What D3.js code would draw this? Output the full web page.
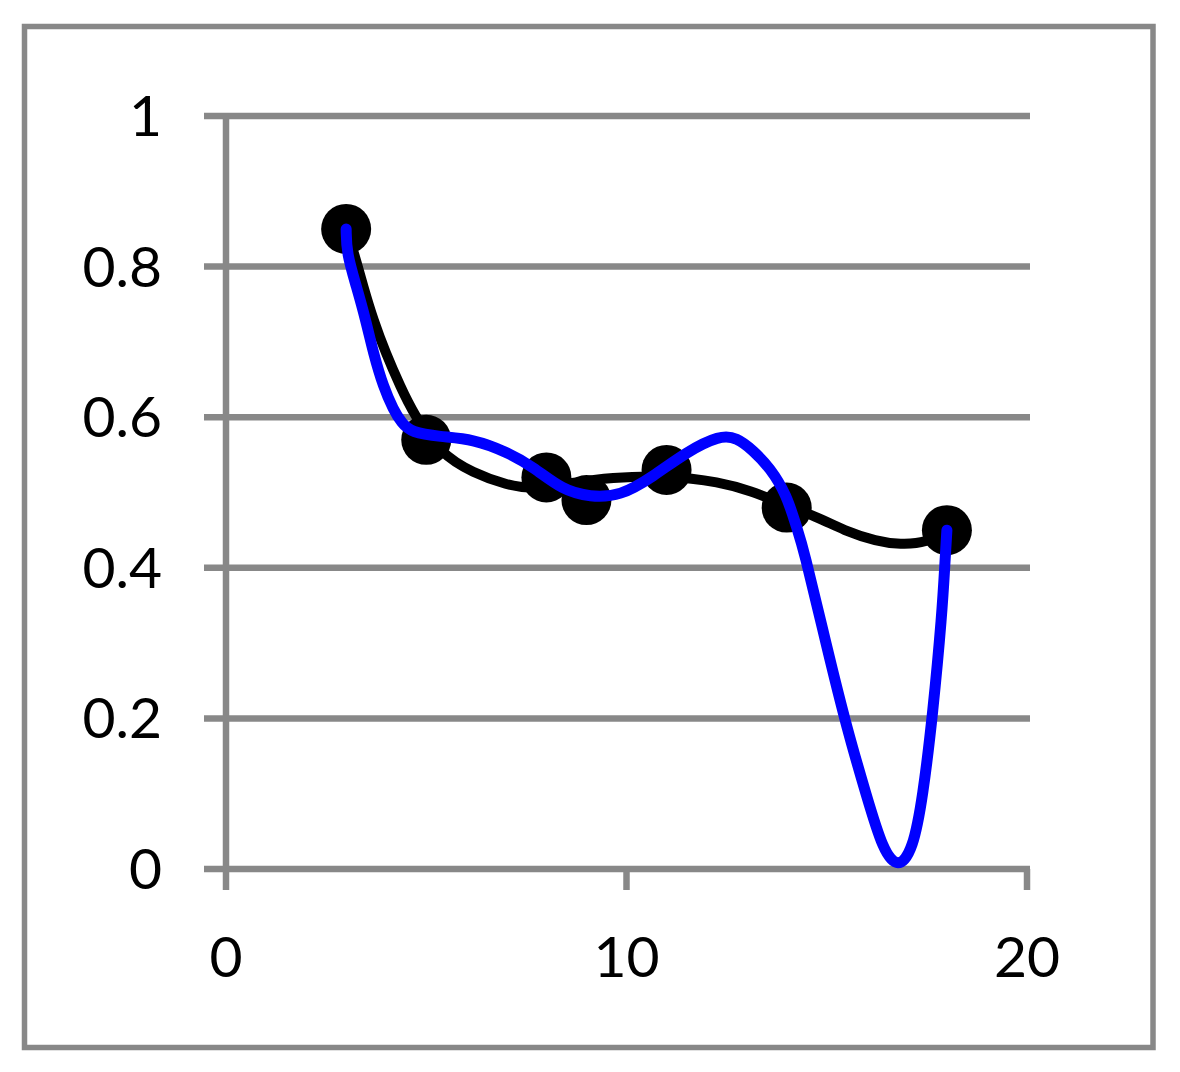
<!DOCTYPE html>
<html>
<head>
<meta charset="utf-8">
<script src="https://cdn.jsdelivr.net/npm/d3@7"></script>
<style>
  html, body { margin: 0; padding: 0; background: #fff; }
  svg { display: block; }
  text { font-family: Lato, "Open Sans", sans-serif; fill: #000; }
</style>
</head>
<body>
<svg id="chart" width="1180" height="1072"></svg>
<script>
// ---- data ----
const xTicks = [0, 10, 20];
const yTicks = [0, 0.2, 0.4, 0.6, 0.8, 1];
const yTickLabels = ["0", "0.2", "0.4", "0.6", "0.8", "1"];
const xTickLabels = ["0", "10", "20"];

const pointsX = [3, 5, 8, 9, 11, 14, 18];
const pointsY = [0.85, 0.57, 0.52, 0.49, 0.53, 0.48, 0.45];

// black smooth curve (trend)
const blackX = [3, 3.2, 3.43, 3.68, 3.99, 4.36, 4.68, 5.34, 6.17, 7.01, 7.67, 8.66, 9.59, 11.0, 12.33, 13.16, 13.66, 14.83, 15.41, 16.25, 16.83, 17.5, 18];
const blackY = [0.85, 0.818, 0.773, 0.729, 0.685, 0.64, 0.605, 0.552, 0.526, 0.51, 0.504, 0.513, 0.52, 0.523, 0.514, 0.501, 0.49, 0.466, 0.45, 0.435, 0.431, 0.433, 0.45];

// blue curve
const blueX = [3, 3.01, 3.26, 3.49, 3.68, 3.93, 4.18, 4.39, 4.62, 5.34, 6.17, 7.01, 7.67, 8.41, 9.09, 9.84, 10.66, 11.5, 12.33, 12.75, 13.16, 13.58, 14.0, 14.25, 14.41, 15.0, 15.51, 16.0, 16.4, 16.78, 17.15, 17.4, 17.65, 17.88, 17.95, 18];
const blueY = [0.85, 0.818, 0.773, 0.729, 0.685, 0.64, 0.61, 0.592, 0.58, 0.574, 0.571, 0.554, 0.534, 0.503, 0.494, 0.495, 0.521, 0.554, 0.576, 0.573, 0.556, 0.533, 0.497, 0.453, 0.428, 0.295, 0.185, 0.096, 0.025, 0.0, 0.025, 0.096, 0.207, 0.34, 0.406, 0.45];

// ---- drawing ----
const svg = d3.select("#chart");
const gray = "#888888";

const x = d3.scaleLinear().domain([0, 20]).range([226, 1027]);
const y = d3.scaleLinear().domain([0, 1]).range([869, 116]);

// outer border
svg.append("rect")
  .attr("x", 24.5).attr("y", 26.5)
  .attr("width", 1153 - 24.5).attr("height", 1047.5 - 26.5)
  .attr("fill", "none").attr("stroke", gray).attr("stroke-width", 5.5);

// horizontal gridlines (with left tick extension)
svg.append("g").selectAll("line").data(yTicks).join("line")
  .attr("x1", 204).attr("x2", 1030)
  .attr("y1", d => y(d)).attr("y2", d => y(d))
  .attr("stroke", gray).attr("stroke-width", 6.5);

// y axis line
svg.append("line")
  .attr("x1", x(0)).attr("x2", x(0))
  .attr("y1", y(1) - 3).attr("y2", y(0) + 3)
  .attr("stroke", gray).attr("stroke-width", 6.5);

// x tick marks
svg.append("g").selectAll("line").data(xTicks).join("line")
  .attr("x1", d => x(d)).attr("x2", d => x(d))
  .attr("y1", y(0)).attr("y2", 890)
  .attr("stroke", gray).attr("stroke-width", 6.5);

// y labels
svg.append("g").selectAll("text").data(yTicks).join("text")
  .attr("x", 162).attr("y", d => y(d) + 20)
  .attr("text-anchor", "end")
  .attr("font-size", 57)
  .text((d, i) => yTickLabels[i]);

// x labels
svg.append("g").selectAll("text").data(xTicks).join("text")
  .attr("x", d => x(d)).attr("y", 977)
  .attr("text-anchor", "middle")
  .attr("font-size", 57)
  .text((d, i) => xTickLabels[i]);

const line = d3.line()
  .x(d => x(d[0])).y(d => y(d[1]))
  .curve(d3.curveBasis);

// black curve
svg.append("path")
  .datum(d3.zip(blackX, blackY))
  .attr("d", line)
  .attr("fill", "none").attr("stroke", "#000").attr("stroke-width", 10)
  .attr("stroke-linecap", "round").attr("stroke-linejoin", "round");

// markers
svg.append("g").selectAll("circle").data(d3.zip(pointsX, pointsY)).join("circle")
  .attr("cx", d => x(d[0])).attr("cy", d => y(d[1]))
  .attr("r", 25).attr("fill", "#000");

// blue curve
svg.append("path")
  .datum(d3.zip(blueX, blueY))
  .attr("d", line)
  .attr("fill", "none").attr("stroke", "#0000ff").attr("stroke-width", 11)
  .attr("stroke-linecap", "round").attr("stroke-linejoin", "round");
</script>
</body>
</html>
